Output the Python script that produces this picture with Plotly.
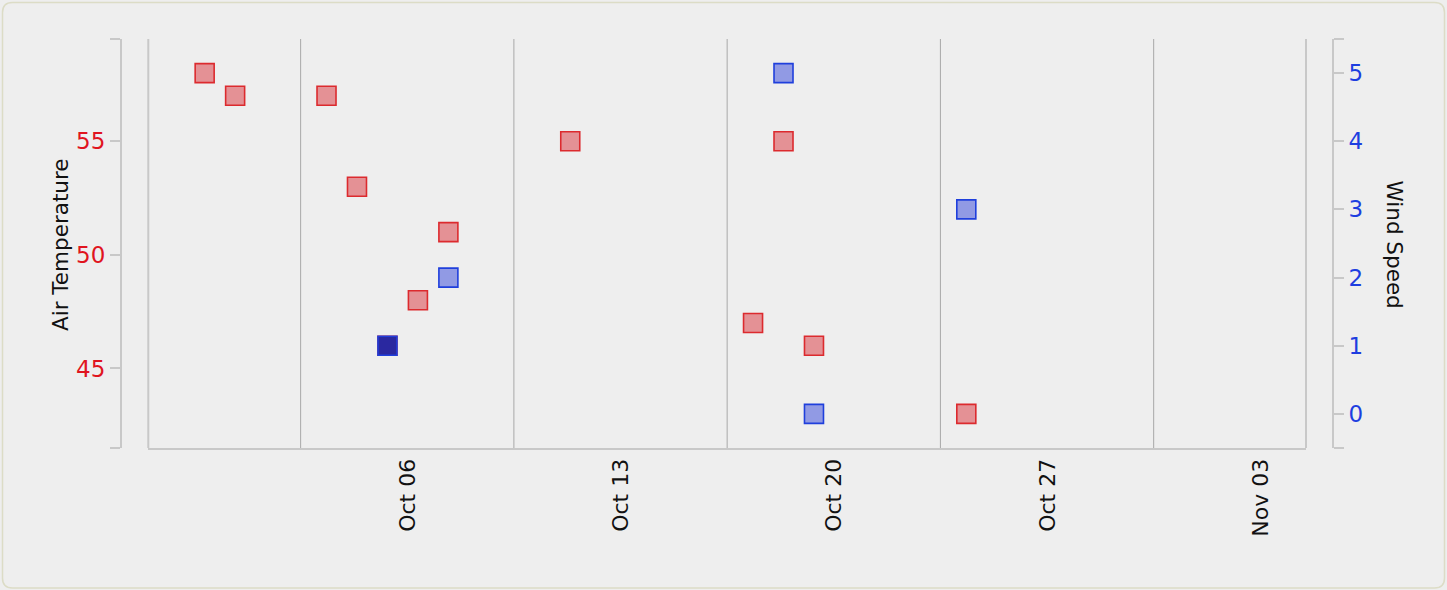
import pandas as pd
import plotly.graph_objects as go

# ---- data ----
temp_dates = ["2013-09-29", "2013-09-30", "2013-10-03", "2013-10-04", "2013-10-05", "2013-10-06",
              "2013-10-07", "2013-10-11", "2013-10-17", "2013-10-18", "2013-10-19", "2013-10-24"]
air_temperature = [58, 57, 57, 53, 46, 48, 51, 55, 47, 55, 46, 43]

wind_dates = ["2013-10-05", "2013-10-07", "2013-10-18", "2013-10-19", "2013-10-24"]
wind_speed = [1, 2, 5, 0, 3]

tick_dates = ["2013-10-06", "2013-10-13", "2013-10-20", "2013-10-27", "2013-11-03"]
tick_labels = ["Oct 06", "Oct 13", "Oct 20", "Oct 27", "Nov 03"]
week_grid_dates = ["2013-10-02", "2013-10-09", "2013-10-16", "2013-10-23", "2013-10-30"]

temp_ticks = [45, 50, 55]
wind_ticks = [0, 1, 2, 3, 4, 5]
highlight_date = "2013-10-05"

# ---- styling ----
FONT = "DejaVu Sans"
RED = "#dc2a2e"
BLUE = "#1f3fdc"
RED_FILL = "rgba(214,32,39,0.45)"
BLUE_FILL = "rgba(30,50,215,0.45)"
DARK_FILL = "rgb(42,40,160)"
AXIS_GREY = "#c8c8c8"
GRID_GREY = "#a8a8a8"

shift = pd.Timedelta(hours=3, minutes=36)
x_range = [pd.Timestamp("2013-09-27") + shift, pd.Timestamp("2013-11-04") + shift]
grid_x = [pd.Timestamp(d) + shift for d in week_grid_dates]
tickvals = [pd.Timestamp(d) - pd.Timedelta(hours=8) for d in tick_dates]

t_range = [41.5, 59.5]
w_range = [-0.5, 5.5]

wind_fill = [DARK_FILL if d == highlight_date else BLUE_FILL for d in wind_dates]

fig = go.Figure()
fig.add_trace(go.Scatter(
    x=pd.to_datetime(temp_dates), y=air_temperature, mode="markers", yaxis="y",
    marker=dict(symbol="square", size=19, color=RED_FILL, line=dict(color=RED, width=1.6)),
    name="Air Temperature"))
fig.add_trace(go.Scatter(
    x=pd.to_datetime(wind_dates), y=wind_speed, mode="markers", yaxis="y2",
    marker=dict(symbol="square", size=19, color=wind_fill, line=dict(color=BLUE, width=1.6)),
    name="Wind Speed"))

shapes = []
for gx in grid_x:
    shapes.append(dict(type="line", xref="x", yref="paper", x0=gx, x1=gx, y0=0, y1=1,
                       line=dict(color=GRID_GREY, width=1), layer="below"))
for dx in (0, 1):
    shapes.append(dict(type="line", xref="x domain", yref="paper", x0=dx, x1=dx, y0=0, y1=1,
                       line=dict(color=AXIS_GREY, width=2), layer="below"))

# rounded outer border (pixel -> paper conversion)
L, R, T, B = 121, 114, 39, 142
W, H = 1447, 590
pw, ph = W - L - R, H - T - B
def px(x):
    return (x - L) / pw
def py(y):
    return (H - B - y) / ph
x0b, x1b, y0b, y1b, rr = 2.5, 1444.5, 2.5, 588, 10
path = (f"M {px(x0b+rr)},{py(y0b)} L {px(x1b-rr)},{py(y0b)} "
        f"Q {px(x1b)},{py(y0b)} {px(x1b)},{py(y0b+rr)} "
        f"L {px(x1b)},{py(y1b-rr)} Q {px(x1b)},{py(y1b)} {px(x1b-rr)},{py(y1b)} "
        f"L {px(x0b+rr)},{py(y1b)} Q {px(x0b)},{py(y1b)} {px(x0b)},{py(y1b-rr)} "
        f"L {px(x0b)},{py(y0b+rr)} Q {px(x0b)},{py(y0b)} {px(x0b+rr)},{py(y0b)} Z")
shapes.append(dict(type="path", xref="paper", yref="paper", path=path,
                   line=dict(color="#dcdcc6", width=1.5), layer="below"))

fig.update_layout(
    width=W, height=H, autosize=False,
    margin=dict(l=L, r=R, t=T, b=B, pad=0),
    paper_bgcolor="#eeeeee", plot_bgcolor="rgba(0,0,0,0)",
    showlegend=False,
    font=dict(family=FONT, color="#111111"),
    xaxis=dict(type="date", domain=[px(148.3), px(1306)], range=x_range,
               tickvals=tickvals, ticktext=tick_labels, tickangle=-90,
               ticks="", showline=True, linecolor=AXIS_GREY, linewidth=2,
               showgrid=False, zeroline=False,
               tickfont=dict(family=FONT, size=22, color="#111111")),
    yaxis=dict(range=t_range, anchor="free", position=0, side="left",
               tickvals=[t_range[0]] + temp_ticks + [t_range[1]],
               ticktext=[""] + [str(v) for v in temp_ticks] + [""],
               ticks="outside", ticklen=10, tickwidth=2, tickcolor=AXIS_GREY,
               showline=True, linecolor=AXIS_GREY, linewidth=2,
               showgrid=False, zeroline=False,
               tickfont=dict(family=FONT, size=23, color="#e0141e")),
    yaxis2=dict(range=w_range, anchor="free", position=1, side="right", overlaying="y",
                tickvals=[w_range[0]] + wind_ticks + [w_range[1]],
                ticktext=[""] + [str(v) for v in wind_ticks] + [""],
                ticks="outside", ticklen=10, tickwidth=2, tickcolor=AXIS_GREY,
                showline=True, linecolor=AXIS_GREY, linewidth=2,
                showgrid=False, zeroline=False,
                tickfont=dict(family=FONT, size=23, color="#1d3ee0")),
    shapes=shapes,
    annotations=[
        dict(text="Air Temperature", xref="paper", yref="paper", x=px(60), y=py(245),
             textangle=-90, showarrow=False, xanchor="center", yanchor="middle",
             font=dict(family=FONT, size=21.5, color="#111111")),
        dict(text="Wind Speed", xref="paper", yref="paper", x=px(1394), y=py(244.5),
             textangle=90, showarrow=False, xanchor="center", yanchor="middle",
             font=dict(family=FONT, size=21.5, color="#111111")),
    ],
)

fig.write_html("out.html", config={"displayModeBar": False},
               post_script="document.body.style.margin='0';document.body.style.overflow='hidden';")
